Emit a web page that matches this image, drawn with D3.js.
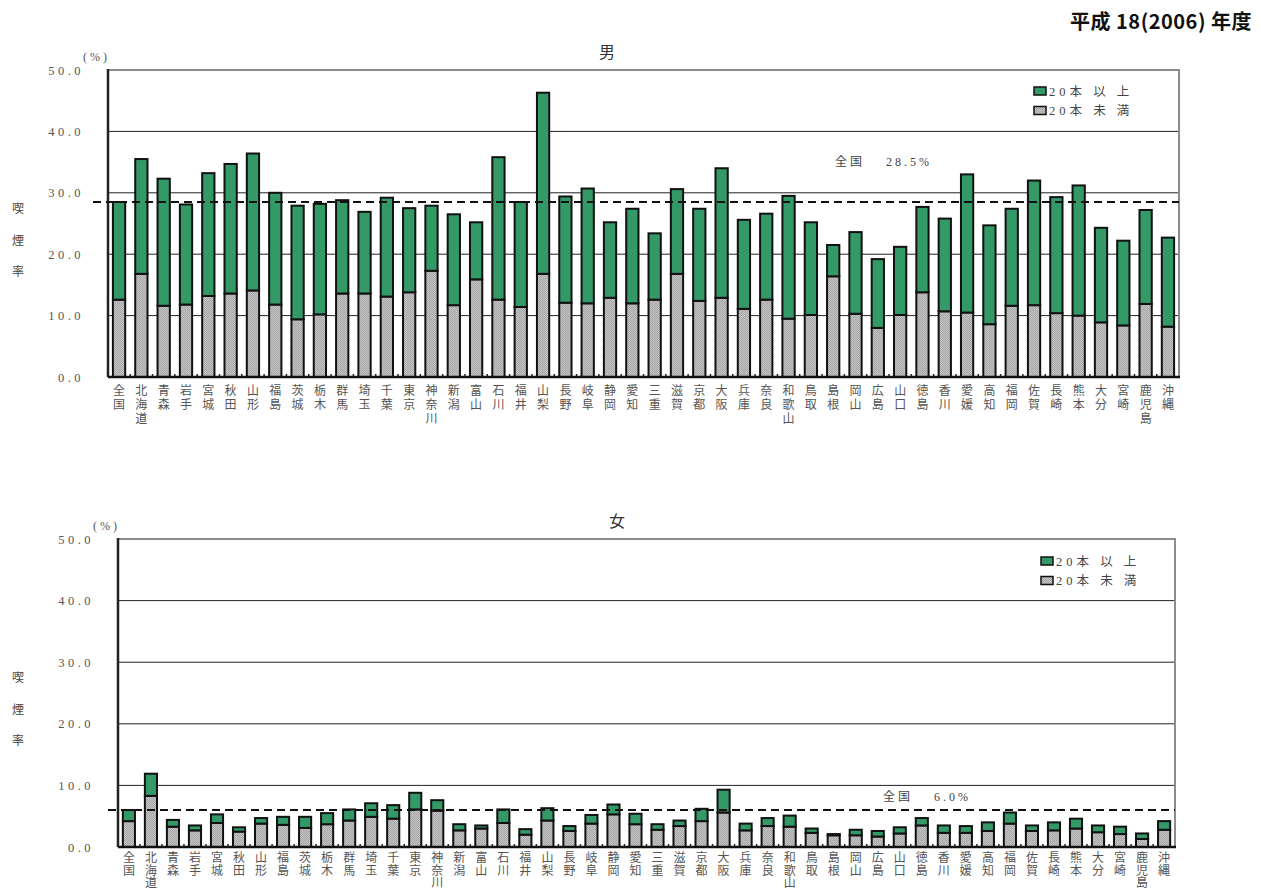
<!DOCTYPE html>
<html>
<head>
<meta charset="utf-8">
<script src="https://cdn.jsdelivr.net/npm/d3@7"></script>
<style>
  body { margin: 0; background: #fff; }
  svg text { font-family: "Liberation Serif", "Noto Sans CJK JP", serif; fill: #444; }
</style>
</head>
<body>
<div class="canvas"></div>
<script>
// data
const prefectures = ['全国','北海道','青森','岩手','宮城','秋田','山形','福島','茨城','栃木','群馬','埼玉','千葉','東京','神奈川','新潟',
  '富山','石川','福井','山梨','長野','岐阜','静岡','愛知','三重','滋賀','京都','大阪','兵庫','奈良','和歌山','鳥取',
  '島根','岡山','広島','山口','徳島','香川','愛媛','高知','福岡','佐賀','長崎','熊本','大分','宮崎','鹿児島','沖縄'];

const maleUnder20 = [12.6,16.8,11.6,11.8,13.2,13.6,14.1,11.8,9.4,10.2,13.6,13.6,13.1,13.8,17.3,11.7,
  15.9,12.6,11.4,16.8,12.1,12.0,12.9,12.0,12.6,16.8,12.4,12.9,11.1,12.6,9.5,10.1,
  16.4,10.3,8.0,10.1,13.8,10.7,10.5,8.6,11.6,11.7,10.4,10.0,8.9,8.4,11.9,8.2];
const maleOver20 = [15.9,18.7,20.7,16.3,20.0,21.1,22.3,18.2,18.5,18.0,15.2,13.3,16.1,13.7,10.6,14.8,
  9.3,23.2,17.1,29.5,17.3,18.7,12.3,15.4,10.8,13.8,15.0,21.1,14.5,14.0,20.0,15.1,
  5.1,13.3,11.2,11.1,13.9,15.1,22.5,16.1,15.8,20.3,18.9,21.2,15.4,13.8,15.3,14.5];

const femaleUnder20 = [4.2,8.3,3.3,2.7,3.9,2.5,3.8,3.6,3.1,3.7,4.3,4.9,4.6,6.1,5.9,2.7,
  3.0,3.9,2.0,4.3,2.6,3.8,5.3,3.7,2.8,3.4,4.2,5.6,2.7,3.4,3.3,2.3,
  1.9,1.9,1.7,2.2,3.5,2.3,2.3,2.6,3.8,2.6,2.7,3.0,2.4,2.1,1.3,2.8];
const femaleOver20 = [1.8,3.6,1.1,0.8,1.4,0.7,0.9,1.3,1.8,1.8,1.8,2.2,2.2,2.7,1.7,1.0,
  0.5,2.2,0.9,2.0,0.8,1.4,1.6,1.7,0.9,0.9,2.0,3.7,1.1,1.3,1.8,0.7,
  0.2,0.9,0.9,1.0,1.2,1.2,1.1,1.4,1.8,0.9,1.3,1.6,1.1,1.2,0.9,1.4];

const nationalRate = { male: 28.5, female: 6.0 };
const seriesNames = ['20本 以 上', '20本 未 満'];
const yTicks = [0, 10, 20, 30, 40, 50];

const green = '#339966';

const svg = d3.select('.canvas')
  .append('svg')
  .attr('width', 1261)
  .attr('height', 894);

// dotted gray fill like the original
const defs = svg.append('defs');
const pat = defs.append('pattern')
  .attr('id', 'dots')
  .attr('width', 2).attr('height', 2)
  .attr('patternUnits', 'userSpaceOnUse');
pat.append('rect').attr('width', 2).attr('height', 2).attr('fill', '#c4c4c4');
pat.append('rect').attr('width', 1).attr('height', 1).attr('fill', '#a6a6a6');
pat.append('rect').attr('x', 1).attr('y', 1).attr('width', 1).attr('height', 1).attr('fill', '#a6a6a6');

svg.append('text')
  .attr('x', 1252).attr('y', 29)
  .attr('text-anchor', 'end')
  .style('font-family', '"Noto Sans CJK JP", sans-serif')
  .style('font-weight', '600')
  .style('font-size', '20px')
  .style('letter-spacing', '0.5px')
  .style('fill', '#111')
  .text('平成 18(2006) 年度');

const drawPanel = (p) => {
  const x = d3.scaleBand()
    .domain(prefectures)
    .range([p.left, p.right])
    .paddingInner(0.45)
    .paddingOuter(0.22);

  const y = d3.scaleLinear()
    .domain([0, 50])
    .range([p.bottom, p.top]);

  const g = svg.append('g');

  // gridlines
  g.selectAll('line.grid')
    .data(yTicks.filter(t => t > 0 && t < 50))
    .enter().append('line')
      .attr('x1', p.left).attr('x2', p.right)
      .attr('y1', d => y(d)).attr('y2', d => y(d))
      .attr('stroke', '#222').attr('stroke-width', 1);

  // top and right frame
  g.append('path')
    .attr('d', `M${p.left},${y(50)}H${p.right}V${p.bottom}`)
    .attr('fill', 'none')
    .attr('stroke', '#8c8c8c')
    .attr('stroke-width', 2);

  // y axis labels
  const yAxis = d3.axisLeft(y)
    .tickValues(yTicks)
    .tickFormat(d3.format('.1f'))
    .tickSize(0)
    .tickPadding(24);
  const ya = g.append('g')
    .attr('transform', `translate(${p.left},0)`)
    .call(yAxis);
  ya.select('.domain').remove();
  ya.selectAll('text')
    .style('font-size', '12.5px')
    .style('letter-spacing', '3.5px')
    .style('fill', '#555');

  g.append('text')
    .attr('x', p.left - 25).attr('y', y(50) - 9)
    .style('font-size', '12px')
    .style('letter-spacing', '3px')
    .style('fill', '#555')
    .text('(%)');

  // stacked bars
  const rows = prefectures.map((name, i) => ({
    name,
    under: p.under[i],
    over: p.over[i]
  }));
  const stack = d3.stack().keys(['under', 'over']);
  const layers = stack(rows);

  g.selectAll('g.layer')
    .data(layers)
    .enter().append('g')
      .attr('class', 'layer')
      .attr('fill', d => d.key === 'under' ? 'url(#dots)' : green)
    .selectAll('rect')
    .data(d => d)
    .enter().append('rect')
      .attr('x', d => x(d.data.name))
      .attr('width', x.bandwidth())
      .attr('y', d => y(d[1]))
      .attr('height', d => y(d[0]) - y(d[1]))
      .attr('stroke', '#111')
      .attr('stroke-width', 2);

  // left axis and baseline
  g.append('line')
    .attr('x1', p.left).attr('x2', p.left)
    .attr('y1', y(50) - 1).attr('y2', p.bottom)
    .attr('stroke', '#222').attr('stroke-width', 2.5);
  g.append('line')
    .attr('x1', p.left).attr('x2', p.right + 1)
    .attr('y1', p.bottom).attr('y2', p.bottom)
    .attr('stroke', '#111').attr('stroke-width', 2.5);

  // small category ticks
  const step = x.step();
  g.selectAll('line.ctick')
    .data(prefectures.slice(1))
    .enter().append('line')
      .attr('x1', d => x(d) - step * 0.225)
      .attr('x2', d => x(d) - step * 0.225)
      .attr('y1', p.bottom).attr('y2', p.bottom - 3)
      .attr('stroke', '#222').attr('stroke-width', 1.5);

  // national average dashed line
  g.append('line')
    .attr('x1', p.dashStart).attr('x2', p.right)
    .attr('y1', y(p.national)).attr('y2', y(p.national))
    .attr('stroke', '#111')
    .attr('stroke-width', 2)
    .attr('stroke-dasharray', '8,5');

  g.append('text')
    .attr('x', p.natLabel[0]).attr('y', p.natLabel[1])
    .style('font-size', '12px')
    .style('letter-spacing', '3px')
    .style('fill', '#444')
    .text(`全国　 ${p.national.toFixed(1)}%`);

  // category labels, written vertically
  const labels = g.selectAll('text.cat')
    .data(prefectures)
    .enter().append('text')
      .attr('class', 'cat')
      .attr('text-anchor', 'middle')
      .style('font-size', '12px')
      .style('fill', '#555');
  labels.each(function(d) {
    const t = d3.select(this);
    [...d].forEach((ch, k) => {
      t.append('tspan')
        .attr('x', x(d) + x.bandwidth() / 2)
        .attr('y', p.bottom + p.catGap + k * p.catStep)
        .text(ch);
    });
  });

  // y title
  g.selectAll('text.ytitle')
    .data(['喫', '煙', '率'])
    .enter().append('text')
      .attr('x', 18)
      .attr('y', (d, i) => p.yTitle + i * 31.5)
      .attr('text-anchor', 'middle')
      .style('font-size', '12px')
      .style('fill', '#444')
      .text(d => d);

  // panel title
  g.append('text')
    .attr('x', p.titleX).attr('y', p.top - 12)
    .attr('text-anchor', 'middle')
    .style('font-size', '16px')
    .style('fill', '#333')
    .text(p.title);

  // legend
  const legend = g.append('g')
    .attr('transform', `translate(${p.legend[0]}, ${p.legend[1]})`);
  seriesNames.forEach((s, i) => {
    legend.append('rect')
      .attr('x', 0).attr('y', i * 19.5 - 4)
      .attr('width', 12).attr('height', 8)
      .attr('fill', i === 0 ? green : 'url(#dots)')
      .attr('stroke', '#111').attr('stroke-width', 1.5);
    legend.append('text')
      .attr('x', 15).attr('y', i * 19.5 + 4.5)
      .style('font-size', '12.5px')
      .style('letter-spacing', '4px')
      .style('fill', '#444')
      .text(s);
  });
};

drawPanel({
  title: '男', titleX: 607,
  left: 108, right: 1179, top: 70, bottom: 377,
  under: maleUnder20, over: maleOver20,
  national: nationalRate.male, dashStart: 93,
  natLabel: [835, 166],
  legend: [1034, 91],
  yTitle: 213,
  catGap: 18, catStep: 14
});

drawPanel({
  title: '女', titleX: 617,
  left: 118, right: 1175, top: 539, bottom: 847,
  under: femaleUnder20, over: femaleOver20,
  national: nationalRate.female, dashStart: 108,
  natLabel: [883, 801],
  legend: [1041, 561],
  yTitle: 682,
  catGap: 15, catStep: 12.5
});
</script>
</body>
</html>
